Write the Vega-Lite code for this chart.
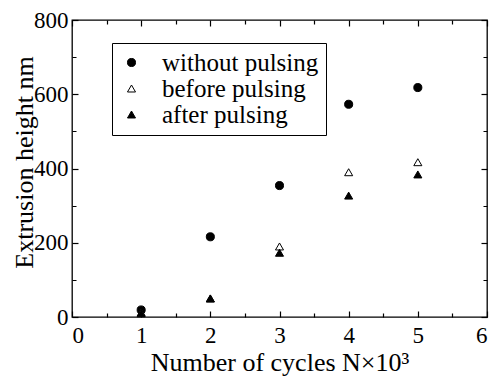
{
  "$schema": "https://vega.github.io/schema/vega-lite/v6.json",
  "width": 415,
  "height": 297,
  "autosize": {"type": "none"},
  "padding": {"left": 72, "top": 20, "right": 6, "bottom": 59},
  "config": {
    "font": "Liberation Serif",
    "view": {"stroke": "black", "strokeWidth": 1.3},
    "axis": {"grid": false, "domain": false, "labelColor": "black", "titleColor": "black", "titleFontWeight": "normal", "ticks": true, "tickColor": "black", "tickWidth": 1.2, "labelOverlap": false}
  },
  "data": {"values": [
    {"N": 1, "h": 19, "series": "without pulsing"},
    {"N": 2, "h": 216, "series": "without pulsing"},
    {"N": 3, "h": 354, "series": "without pulsing"},
    {"N": 4, "h": 573, "series": "without pulsing"},
    {"N": 5, "h": 618, "series": "without pulsing"},
    {"N": 1, "h": 12, "series": "before pulsing"},
    {"N": 2, "h": 50, "series": "before pulsing"},
    {"N": 3, "h": 190, "series": "before pulsing"},
    {"N": 4, "h": 390, "series": "before pulsing"},
    {"N": 5, "h": 417, "series": "before pulsing"},
    {"N": 1, "h": 10, "series": "after pulsing"},
    {"N": 2, "h": 50, "series": "after pulsing"},
    {"N": 3, "h": 173, "series": "after pulsing"},
    {"N": 4, "h": 327, "series": "after pulsing"},
    {"N": 5, "h": 384, "series": "after pulsing"}
  ]},
  "encoding": {
    "x": {"field": "N", "type": "quantitative", "scale": {"domain": [0, 6], "nice": false, "zero": false}},
    "y": {"field": "h", "type": "quantitative", "scale": {"domain": [0, 800], "nice": false}}
  },
  "layer": [
    {
      "mark": {"type": "point", "opacity": 0},
      "encoding": {
        "x": {"field": "N", "type": "quantitative",
          "axis": {"orient": "top", "values": [0, 0.5, 1, 1.5, 2, 2.5, 3, 3.5, 4, 4.5, 5, 5.5, 6], "labels": false, "title": null,
            "tickSize": 6, "offset": -6,
            "tickDash": {"condition": {"test": "datum.value % 1 !== 0", "value": [0, 2, 4, 0]}, "value": [6, 0]}}},
        "y": {"field": "h", "type": "quantitative",
          "axis": {"orient": "right", "values": [0, 100, 200, 300, 400, 500, 600, 700, 800], "labels": false, "title": null,
            "tickSize": 6, "offset": -6,
            "tickDash": {"condition": {"test": "datum.value % 200 !== 0", "value": [0, 2, 4, 0]}, "value": [6, 0]}}}
      }
    },
    {
      "mark": {"type": "point", "filled": false, "strokeWidth": 1, "opacity": 1},
      "encoding": {
        "x": {"field": "N", "type": "quantitative",
          "axis": {"orient": "bottom", "values": [0, 0.5, 1, 1.5, 2, 2.5, 3, 3.5, 4, 4.5, 5, 5.5, 6],
            "labelExpr": "datum.value % 1 === 0 ? format(datum.value, 'd') : ''",
            "tickSize": 6, "offset": -6,
            "tickDash": {"condition": {"test": "datum.value % 1 !== 0", "value": [0, 2, 4, 0]}, "value": [6, 0]},
            "labelFont": "Liberation Serif", "labelFontSize": 23, "labelPadding": 7,
            "title": "Number of cycles N×10³", "titleFont": "Liberation Serif", "titleFontSize": 26, "titlePadding": 2}},
        "y": {"field": "h", "type": "quantitative",
          "axis": {"orient": "left", "values": [0, 100, 200, 300, 400, 500, 600, 700, 800],
            "labelExpr": "datum.value % 200 === 0 ? format(datum.value, 'd') : ''",
            "tickSize": 6, "offset": -6,
            "tickDash": {"condition": {"test": "datum.value % 200 !== 0", "value": [0, 2, 4, 0]}, "value": [6, 0]},
            "labelFont": "Liberation Serif", "labelFontSize": 23, "labelPadding": 4,
            "title": "Extrusion height nm", "titleFont": "Liberation Serif", "titleFontSize": 26, "titleX": -41, "titleY": 142}},
        "shape": {"field": "series", "type": "nominal", "sort": ["without pulsing", "before pulsing", "after pulsing"],
          "scale": {"domain": ["without pulsing", "before pulsing", "after pulsing"], "range": ["circle", "triangle-up", "triangle-up"]},
          "legend": {"title": null, "orient": "none", "legendX": 40, "legendY": 23, "strokeColor": "black", "fillColor": "white", "padding": 7,
            "labelFontSize": 25, "labelColor": "black", "labelFont": "Liberation Serif", "labelOffset": 18, "rowPadding": 0, "symbolSize": 65,
            "symbolOffset": 0, "symbolStrokeWidth": 1, "cornerRadius": 0}},
        "fill": {"field": "series", "type": "nominal", "sort": ["without pulsing", "before pulsing", "after pulsing"],
          "scale": {"domain": ["without pulsing", "before pulsing", "after pulsing"], "range": ["black", "white", "black"]}},
        "stroke": {"field": "series", "type": "nominal", "sort": ["without pulsing", "before pulsing", "after pulsing"],
          "scale": {"domain": ["without pulsing", "before pulsing", "after pulsing"], "range": ["black", "black", "black"]}},
        "size": {"value": 65}
      }
    }
  ],
  "resolve": {"axis": {"x": "independent", "y": "independent"}}
}
